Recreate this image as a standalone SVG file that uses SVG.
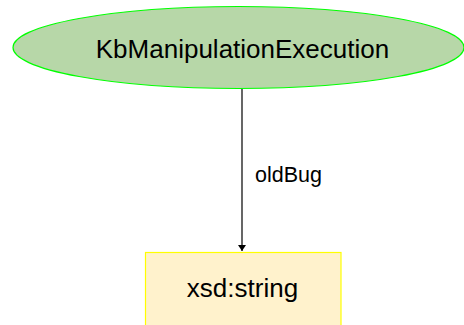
<svg xmlns="http://www.w3.org/2000/svg" width="464" height="325" viewBox="0 0 464 325">
<style>
text { font-family: "Liberation Sans", Arial, sans-serif; fill: #000000; }
.lbl { font-size: 26px; text-anchor: middle; }
.elbl { font-size: 21.5px; }
</style>
<defs>
<marker id="arrow" markerWidth="8" markerHeight="10" refX="6" refY="5" orient="auto" markerUnits="userSpaceOnUse">
<path d="M0,1 L6,5 L0,9 Z" fill="#000000"/>
</marker>
</defs>
<rect width="464" height="325" fill="#ffffff"/>
<g id="connectors">
<line x1="242" y1="89" x2="242" y2="251" stroke="#000000" stroke-width="1.2" marker-end="url(#arrow)"/>
<text class="elbl" x="255" y="182">oldBug</text>
</g>
<g id="node-KbManipulationExecution">
<ellipse cx="238.5" cy="47.5" rx="225.5" ry="41" fill="#b7d7a8" stroke="#00ff00" stroke-width="1.2"/>
<text class="lbl" x="242.5" y="58">KbManipulationExecution</text>
</g>
<g id="node-xsd-string">
<rect x="145.5" y="252.5" width="195.5" height="90" fill="#fff2cc" stroke="#ffff00" stroke-width="1.2"/>
<text class="lbl" x="242.5" y="297">xsd:string</text>
</g>
</svg>
